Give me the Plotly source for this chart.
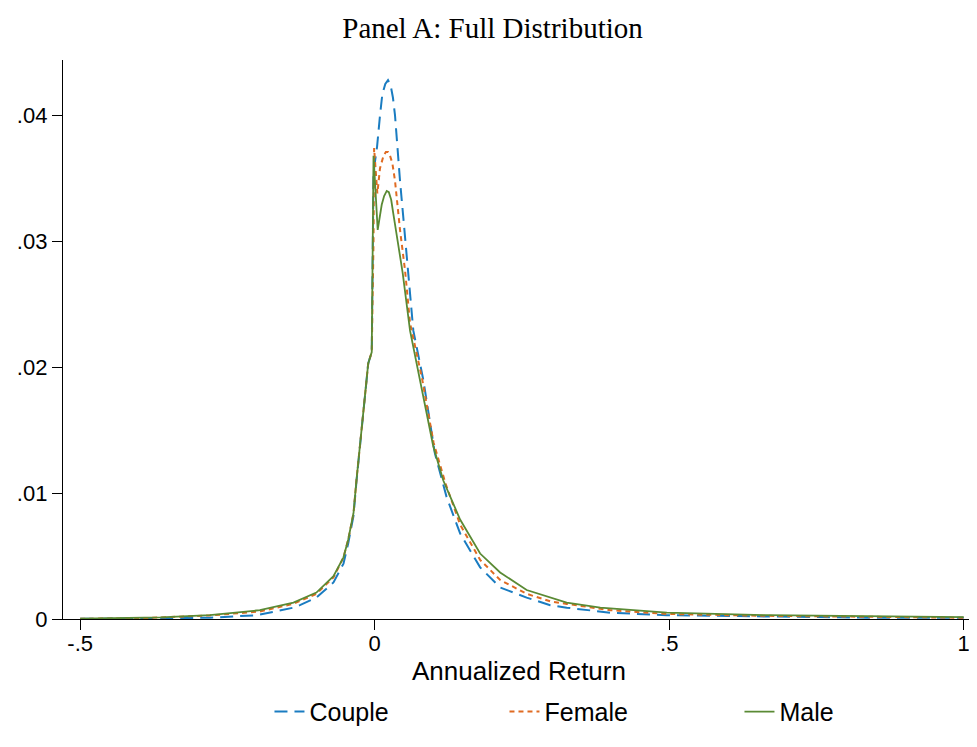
import plotly.graph_objects as go

# Kernel density estimates of annualized return
couple_x = [-0.5, -0.4, -0.28, -0.2, -0.138, -0.127, -0.099, -0.07, -0.053, -0.045,
            -0.036, -0.031, -0.025, -0.019, -0.011, -0.005, -0.002, 0.001, 0.004,
            0.009, 0.013, 0.018, 0.0226, 0.027, 0.031, 0.0345, 0.0382, 0.043, 0.048,
            0.053, 0.057, 0.0656, 0.0825, 0.102, 0.122, 0.145, 0.179, 0.213, 0.258,
            0.298, 0.326, 0.4, 0.496, 0.666, 0.835, 1.0]
couple_y = [0.00001, 0.00003, 0.0001, 0.0003, 0.0009, 0.0011, 0.0017, 0.0029, 0.0044, 0.006,
            0.0082, 0.0109, 0.0136, 0.0162, 0.0203, 0.0212, 0.0355, 0.0365, 0.0375,
            0.040, 0.0417, 0.0425, 0.0428, 0.0424, 0.0414, 0.040, 0.0375, 0.0348, 0.0322,
            0.0295, 0.027, 0.0229, 0.019, 0.0132, 0.0097, 0.0068, 0.0041, 0.0025, 0.0017,
            0.0011, 0.0009, 0.0005, 0.0003, 0.0002, 0.0001, 0.0001]

female_x = [-0.5, -0.4, -0.28, -0.195, -0.138, -0.099, -0.07, -0.053, -0.045, -0.036,
            -0.031, -0.025, -0.019, -0.011, -0.005, -0.002, -0.001, 0.0045, 0.009,
            0.015, 0.019, 0.0226, 0.026, 0.03, 0.0345, 0.043, 0.0515, 0.06, 0.08, 0.1,
            0.12, 0.145, 0.179, 0.213, 0.258, 0.298, 0.326, 0.4, 0.496, 0.666, 0.835, 1.0]
female_y = [0.00002, 0.00006, 0.00028, 0.0006, 0.0012, 0.002, 0.0033, 0.0049, 0.0063, 0.0084,
            0.011, 0.0137, 0.0163, 0.0203, 0.0212, 0.030, 0.0374, 0.0338, 0.0358,
            0.0368, 0.0371, 0.0371, 0.0368, 0.0362, 0.0348, 0.0309, 0.0277, 0.0235, 0.0192,
            0.014, 0.0108, 0.0075, 0.0047, 0.0031, 0.002, 0.0014, 0.0012, 0.0007, 0.0004,
            0.00025, 0.00018, 0.0001]

male_x = [-0.5, -0.4, -0.364, -0.28, -0.195, -0.138, -0.099, -0.07, -0.053, -0.045,
          -0.036, -0.031, -0.025, -0.019, -0.011, -0.005, -0.002, 0.0051, 0.0085,
          0.0119, 0.016, 0.0204, 0.024, 0.028, 0.0316, 0.04, 0.0475, 0.06, 0.077,
          0.0995, 0.1165, 0.145, 0.179, 0.213, 0.258, 0.298, 0.326, 0.383, 0.496,
          0.666, 0.835, 1.0]
male_y = [0.00002, 0.00007, 0.00013, 0.0003, 0.0007, 0.0013, 0.0021, 0.0034, 0.0049, 0.0063,
          0.0084, 0.011, 0.0137, 0.0163, 0.0203, 0.0212, 0.0368, 0.0309, 0.0321,
          0.0329, 0.0336, 0.034, 0.0339, 0.0333, 0.0322, 0.0295, 0.0275, 0.0229, 0.019,
          0.0137, 0.011, 0.0079, 0.0052, 0.0037, 0.0023, 0.0017, 0.0013, 0.0009, 0.0005,
          0.0003, 0.0002, 0.00015]

x_ticks = [-0.5, 0, 0.5, 1]
x_labels = ["-.5", "0", ".5", "1"]
y_ticks = [0, 0.01, 0.02, 0.03, 0.04]
y_labels = ["0", ".01", ".02", ".03", ".04"]

fig = go.Figure()
fig.add_trace(go.Scatter(x=couple_x, y=couple_y, mode="lines", name="Couple",
                         line=dict(color="#1a7cc1", width=2, dash="13px,7px")))
fig.add_trace(go.Scatter(x=female_x, y=female_y, mode="lines", name="Female",
                         line=dict(color="#e06b22", width=2, dash="5px,4px")))
fig.add_trace(go.Scatter(x=male_x, y=male_y, mode="lines", name="Male",
                         line=dict(color="#5a8a34", width=1.8)))

# page body has an 8px margin, so the figure is 8px smaller and shifted
fig.update_layout(
    width=969, height=739,
    paper_bgcolor="white", plot_bgcolor="white",
    margin=dict(l=55, r=2, t=52, b=128, autoexpand=False),
    title=dict(text="Panel A: Full Distribution", x=0.5, xanchor="center",
               yref="container", y=0.973, yanchor="middle",
               font=dict(family="Palatino Linotype, Book Antiqua, Palatino, Liberation Serif, serif",
                         size=29, color="black")),
    font=dict(family="Liberation Sans, Arial, sans-serif", size=22, color="black"),
    legend=dict(orientation="h", x=0.2264, xanchor="left", y=-0.166, yanchor="middle",
                font=dict(size=25), entrywidth=190, entrywidthmode="pixels"),
    xaxis=dict(range=[-0.5292, 1.0192], tickvals=x_ticks, ticktext=x_labels,
               showgrid=False, zeroline=False, showline=True, linecolor="black", linewidth=1.3,
               ticks="outside", ticklen=10, tickcolor="black", ticklabelstandoff=-6,
               title=dict(text="Annualized Return", standoff=7, font=dict(size=26))),
    yaxis=dict(range=[0, 0.0444], tickvals=y_ticks, ticktext=y_labels,
               showgrid=False, zeroline=False, showline=True, linecolor="black", linewidth=1.3,
               ticks="outside", ticklen=10, tickcolor="black"),
)

fig.write_html("out.html")
